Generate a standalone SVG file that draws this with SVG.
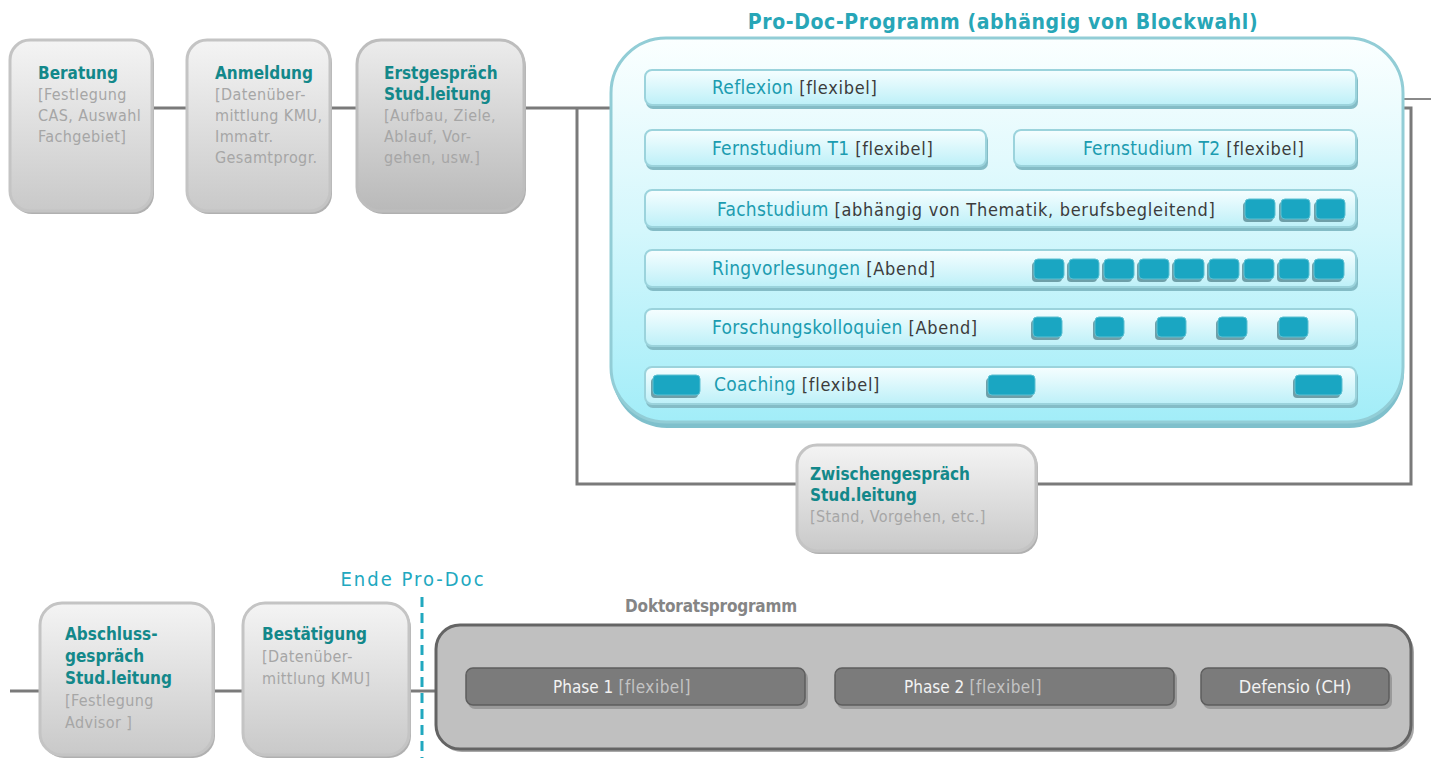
<svg xmlns="http://www.w3.org/2000/svg" width="1433" height="758" viewBox="0 0 1433 758">
<defs>
<linearGradient id="gGray" x1="0" y1="0" x2="0" y2="1"><stop offset="0" stop-color="#f4f4f4"/><stop offset="1" stop-color="#c9c9c9"/></linearGradient>
<linearGradient id="gGrayD" x1="0" y1="0" x2="0" y2="1"><stop offset="0" stop-color="#ececec"/><stop offset="1" stop-color="#b9b9b9"/></linearGradient>
<linearGradient id="gBig" x1="0" y1="0" x2="0" y2="1"><stop offset="0" stop-color="#fbffff"/><stop offset="0.5" stop-color="#d4f7fc"/><stop offset="1" stop-color="#a2edf8"/></linearGradient>
<linearGradient id="gBar" x1="0" y1="0" x2="0" y2="1"><stop offset="0" stop-color="#f6feff"/><stop offset="1" stop-color="#bdf0f8"/></linearGradient>
<style>
.t{font-family:"Liberation Sans Narrow","DejaVu Sans Condensed","Liberation Sans",sans-serif}
.h{font-weight:bold;fill:#13888a;font-size:17px}
.s{fill:#a6a6a6;font-size:16px;letter-spacing:0.4px}
.bt{fill:#1c9cb0;font-size:19px;letter-spacing:0.3px}
.bs{fill:#3c3c3c;font-size:18px;letter-spacing:0.7px}
.node{fill:url(#gGray);stroke:#c4c4c4;stroke-width:3}
.shadow{fill:#b0b0b0}
.bar{fill:url(#gBar);stroke:#9bd3dc;stroke-width:2}
.barsh{fill:#84bcc6}
.blk{fill:#1aa6c2;stroke:#5cc0d2;stroke-width:1}
.blksh{fill:#6f9fa8}
.ph{fill:#7b7b7b;stroke:#5e5e5e;stroke-width:1.5}
.phsh{fill:#9a9a9a}
.conn{stroke:#7a7a7a;stroke-width:3;fill:none}
</style>
</defs>
<rect width="1433" height="758" fill="#ffffff"/>

<g id="connectors">
<line class="conn" x1="152" y1="108" x2="188" y2="108"/>
<line class="conn" x1="331" y1="108" x2="358" y2="108"/>
<line class="conn" x1="525" y1="108" x2="612" y2="108"/>
<polyline class="conn" points="577,108 577,484 1411,484 1411,108 1401,108"/>
<line stroke="#8a8a8a" stroke-width="2" x1="1404" y1="99" x2="1431" y2="99"/>
<line class="conn" x1="10" y1="691" x2="41" y2="691"/>
<line class="conn" x1="213" y1="691" x2="244" y2="691"/>
<line class="conn" x1="410" y1="691" x2="437" y2="691"/>
<line stroke="#21a8bf" stroke-width="3" stroke-dasharray="10,6" x1="422" y1="597" x2="422" y2="758"/>
</g>

<g id="beratung">
<rect class="shadow" x="12" y="43" width="142" height="171" rx="20"/>
<rect class="node" x="10" y="40" width="142" height="171" rx="20"/>
<text class="t" x="38" y="79"><tspan class="h" x="38">Beratung</tspan><tspan class="s" x="38" dy="21">[Festlegung</tspan><tspan class="s" x="38" dy="21">CAS, Auswahl</tspan><tspan class="s" x="38" dy="21">Fachgebiet]</tspan></text>
</g>

<g id="anmeldung">
<rect class="shadow" x="189" y="43" width="143" height="171" rx="20"/>
<rect class="node" x="187" y="40" width="143" height="171" rx="20"/>
<text class="t" x="215" y="79"><tspan class="h" x="215">Anmeldung</tspan><tspan class="s" x="215" dy="21">[Datenüber-</tspan><tspan class="s" x="215" dy="21">mittlung KMU,</tspan><tspan class="s" x="215" dy="21">Immatr.</tspan><tspan class="s" x="215" dy="21">Gesamtprogr.</tspan></text>
</g>

<g id="erstgespraech">
<rect class="shadow" x="359" y="43" width="167" height="171" rx="24"/>
<rect x="357" y="40" width="167" height="171" rx="24" fill="url(#gGrayD)" stroke="#bdbdbd" stroke-width="3"/>
<text class="t" x="384" y="79"><tspan class="h" x="384">Erstgespräch</tspan><tspan class="h" x="384" dy="21">Stud.leitung</tspan><tspan class="s" x="384" dy="21">[Aufbau, Ziele,</tspan><tspan class="s" x="384" dy="21">Ablauf, Vor-</tspan><tspan class="s" x="384" dy="21">gehen, usw.]</tspan></text>
</g>

<g id="prodoc">
<text class="t" x="1003" y="29" text-anchor="middle" font-size="21" font-weight="bold" fill="#27a6b7" letter-spacing="0.6">Pro-Doc-Programm (abhängig von Blockwahl)</text>
<rect x="612" y="44" width="792" height="384" rx="55" fill="#7fc0cc"/>
<rect x="611" y="38" width="792" height="384" rx="55" fill="url(#gBig)" stroke="#92cdd6" stroke-width="3"/>

<g id="reflexion">
<rect class="barsh" x="646" y="73" width="712" height="36" rx="7"/>
<rect class="bar" x="645" y="70" width="711" height="35" rx="7"/>
<text class="t" x="712" y="94"><tspan class="bt">Reflexion</tspan><tspan class="bs"> [flexibel]</tspan></text>
</g>

<g id="fernstudium-t1">
<rect class="barsh" x="646" y="133" width="342" height="37" rx="7"/>
<rect class="bar" x="645" y="130" width="341" height="36" rx="7"/>
<text class="t" x="712" y="155"><tspan class="bt">Fernstudium T1</tspan><tspan class="bs"> [flexibel]</tspan></text>
</g>

<g id="fernstudium-t2">
<rect class="barsh" x="1015" y="133" width="343" height="37" rx="7"/>
<rect class="bar" x="1014" y="130" width="342" height="36" rx="7"/>
<text class="t" x="1083" y="155"><tspan class="bt">Fernstudium T2</tspan><tspan class="bs"> [flexibel]</tspan></text>
</g>

<g id="fachstudium">
<rect class="barsh" x="646" y="193" width="712" height="38" rx="7"/>
<rect class="bar" x="645" y="190" width="711" height="37" rx="7"/>
<text class="t" x="717" y="216"><tspan class="bt">Fachstudium</tspan><tspan class="bs">  [abhängig von Thematik, berufsbegleitend]</tspan></text>
<rect class="blksh" x="1243" y="202" width="30" height="20" rx="4"/><rect class="blk" x="1245" y="199" width="30" height="20" rx="4"/>
<rect class="blksh" x="1279" y="202" width="30" height="20" rx="4"/><rect class="blk" x="1281" y="199" width="29" height="20" rx="4"/>
<rect class="blksh" x="1314" y="202" width="30" height="20" rx="4"/><rect class="blk" x="1316" y="199" width="29" height="20" rx="4"/>
</g>

<g id="ringvorlesungen">
<rect class="barsh" x="646" y="253" width="712" height="38" rx="7"/>
<rect class="bar" x="645" y="250" width="711" height="37" rx="7"/>
<text class="t" x="712" y="275"><tspan class="bt">Ringvorlesungen</tspan><tspan class="bs">  [Abend]</tspan></text>
<g>
<rect class="blksh" x="1032" y="262" width="30" height="20" rx="4"/><rect class="blk" x="1034" y="259" width="30" height="20" rx="4"/>
<rect class="blksh" x="1067" y="262" width="30" height="20" rx="4"/><rect class="blk" x="1069" y="259" width="30" height="20" rx="4"/>
<rect class="blksh" x="1102" y="262" width="30" height="20" rx="4"/><rect class="blk" x="1104" y="259" width="30" height="20" rx="4"/>
<rect class="blksh" x="1137" y="262" width="30" height="20" rx="4"/><rect class="blk" x="1139" y="259" width="30" height="20" rx="4"/>
<rect class="blksh" x="1172" y="262" width="30" height="20" rx="4"/><rect class="blk" x="1174" y="259" width="30" height="20" rx="4"/>
<rect class="blksh" x="1207" y="262" width="30" height="20" rx="4"/><rect class="blk" x="1209" y="259" width="30" height="20" rx="4"/>
<rect class="blksh" x="1242" y="262" width="30" height="20" rx="4"/><rect class="blk" x="1244" y="259" width="30" height="20" rx="4"/>
<rect class="blksh" x="1277" y="262" width="30" height="20" rx="4"/><rect class="blk" x="1279" y="259" width="30" height="20" rx="4"/>
<rect class="blksh" x="1312" y="262" width="30" height="20" rx="4"/><rect class="blk" x="1314" y="259" width="30" height="20" rx="4"/>
</g>
</g>

<g id="forschungskolloquien">
<rect class="barsh" x="646" y="312" width="712" height="38" rx="7"/>
<rect class="bar" x="645" y="309" width="711" height="37" rx="7"/>
<text class="t" x="712" y="334"><tspan class="bt">Forschungskolloquien</tspan><tspan class="bs">  [Abend]</tspan></text>
<rect class="blksh" x="1031" y="320" width="29" height="20" rx="4"/><rect class="blk" x="1033" y="317" width="29" height="20" rx="4"/>
<rect class="blksh" x="1093" y="320" width="29" height="20" rx="4"/><rect class="blk" x="1095" y="317" width="29" height="20" rx="4"/>
<rect class="blksh" x="1155" y="320" width="29" height="20" rx="4"/><rect class="blk" x="1157" y="317" width="29" height="20" rx="4"/>
<rect class="blksh" x="1216" y="320" width="29" height="20" rx="4"/><rect class="blk" x="1218" y="317" width="29" height="20" rx="4"/>
<rect class="blksh" x="1277" y="320" width="29" height="20" rx="4"/><rect class="blk" x="1279" y="317" width="29" height="20" rx="4"/>
</g>

<g id="coaching">
<rect class="barsh" x="646" y="370" width="712" height="38" rx="7"/>
<rect class="bar" x="645" y="367" width="711" height="37" rx="7"/>
<text class="t" x="714" y="391"><tspan class="bt">Coaching</tspan><tspan class="bs">  [flexibel]</tspan></text>
<rect class="blksh" x="651" y="378" width="47" height="20" rx="4"/><rect class="blk" x="653" y="375" width="47" height="20" rx="4"/>
<rect class="blksh" x="986" y="378" width="47" height="20" rx="4"/><rect class="blk" x="988" y="375" width="47" height="20" rx="4"/>
<rect class="blksh" x="1293" y="378" width="47" height="20" rx="4"/><rect class="blk" x="1295" y="375" width="47" height="20" rx="4"/>
</g>
</g>

<g id="zwischengespraech">
<rect class="shadow" x="799" y="447" width="239" height="107" rx="20"/>
<rect class="node" x="797" y="445" width="239" height="106" rx="20"/>
<text class="t" x="810" y="480"><tspan class="h" x="810">Zwischengespräch</tspan><tspan class="h" x="810" dy="21">Stud.leitung</tspan><tspan class="s" x="810" dy="21" letter-spacing="0.8">[Stand, Vorgehen, etc.]</tspan></text>
</g>

<g id="ende-prodoc">
<text class="t" x="413" y="586" text-anchor="middle" font-size="20" fill="#21a8bf" letter-spacing="2">Ende Pro-Doc</text>
</g>

<g id="abschluss">
<rect class="shadow" x="42" y="606" width="173" height="152" rx="22"/>
<rect class="node" x="40" y="603" width="173" height="152" rx="22"/>
<text class="t" x="65" y="640"><tspan class="h" x="65">Abschluss-</tspan><tspan class="h" x="65" dy="22">gespräch</tspan><tspan class="h" x="65" dy="22">Stud.leitung</tspan><tspan class="s" x="65" dy="22">[Festlegung</tspan><tspan class="s" x="65" dy="22">Advisor ]</tspan></text>
</g>

<g id="bestaetigung">
<rect class="shadow" x="245" y="606" width="166" height="152" rx="22"/>
<rect class="node" x="243" y="603" width="166" height="152" rx="22"/>
<text class="t" x="262" y="640"><tspan class="h" x="262">Bestätigung</tspan><tspan class="s" x="262" dy="22">[Datenüber-</tspan><tspan class="s" x="262" dy="22">mittlung KMU]</tspan></text>
</g>

<g id="doktoratsprogramm">
<text class="t" x="711" y="612" text-anchor="middle" font-size="17" font-weight="bold" fill="#858585" letter-spacing="-0.2">Doktoratsprogramm</text>
<rect x="438" y="628" width="976" height="124" rx="24" fill="#a8a8a8"/>
<rect x="436" y="625" width="975" height="124" rx="24" fill="#c0c0c0" stroke="#646464" stroke-width="3"/>
<g id="phase1">
<rect class="phsh" x="468" y="671" width="340" height="38" rx="7"/>
<rect class="ph" x="466" y="668" width="339" height="37" rx="7"/>
<text class="t" x="553" y="693" font-size="17"><tspan fill="#f2f2f2">Phase 1</tspan><tspan fill="#c4c4c4" letter-spacing="0.5"> [flexibel]</tspan></text>
</g>
<g id="phase2">
<rect class="phsh" x="837" y="671" width="340" height="38" rx="7"/>
<rect class="ph" x="835" y="668" width="339" height="37" rx="7"/>
<text class="t" x="904" y="693" font-size="17"><tspan fill="#f2f2f2">Phase 2</tspan><tspan fill="#c4c4c4" letter-spacing="0.5"> [flexibel]</tspan></text>
</g>
<g id="defensio">
<rect class="phsh" x="1203" y="671" width="189" height="38" rx="7"/>
<rect class="ph" x="1201" y="668" width="188" height="37" rx="7"/>
<text class="t" x="1295" y="693" font-size="18" text-anchor="middle" fill="#f2f2f2">Defensio (CH)</text>
</g>
</g>
</svg>
